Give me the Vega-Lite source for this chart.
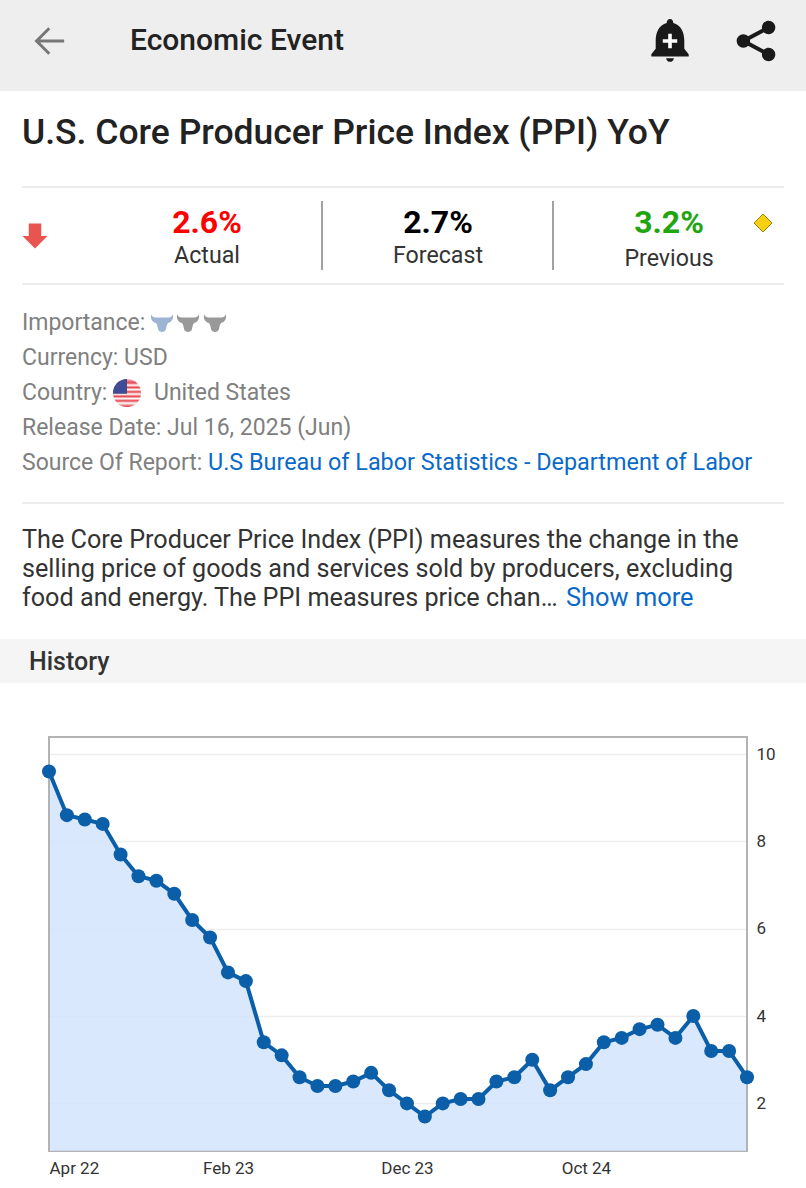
{"$schema":"https://vega.github.io/schema/vega-lite/v6.json","padding":0,"background":"#ffffff","autosize":{"type":"pad"},"config":{"font":"Roboto","view":{"stroke":null},"concat":{"spacing":0}},"bounds":"flush","spacing":0,"vconcat":[{"width":806,"height":737,"encoding":{"x":{"field":"col","type":"quantitative","axis":null,"scale":{"domain":[1,2,3,4,5,6,7,8,9,10,11,12,13,14,15,16,17,18,19,20,21,22,23],"range":[0,22,29,35,50,127,130,154,162,188,207,208,215,322,438,553,566,669,670,756,763,784,806],"nice":false,"zero":false}},"y":{"field":"line","type":"quantitative","axis":null,"scale":{"domain":[1,2,3,4,5,6,7,8,9,10,11,12,13,14,15,16,17,18,19,20,21,22,23,24,25],"range":[0,41,91,133,187,201,223,236,256,259,270,284,323,358,393,428,463,503,540,569,598,639,662,683,737],"nice":false,"zero":false}},"color":{"field":"tone","type":"nominal","legend":null,"scale":{"domain":["top bar","history bar","actual","forecast","previous","importance on","importance off"],"range":["#eeeeee","#f5f5f5","#ff0000","#000000","#1ea50f","#9db4d4","#999999"]}}},"layer":[{"data":{"values":[{"tone":"top bar","col":1,"col2":23,"line":1,"line2":3},{"tone":"history bar","col":1,"col2":23,"line":22,"line2":24}]},"mark":{"type":"rect"},"encoding":{"x2":{"field":"col2"},"y2":{"field":"line2"}}},{"data":{"values":[{"col":2,"col2":22,"line":5},{"col":2,"col2":22,"line":12},{"col":2,"col2":22,"line":18}]},"mark":{"type":"rule","strokeWidth":1.2},"encoding":{"x2":{"field":"col2"},"color":{"value":"#dcdcdc"}}},{"data":{"values":[{"col":14,"line":6,"line2":11},{"col":16,"line":6,"line2":11}]},"mark":{"type":"rule","strokeWidth":1},"encoding":{"y2":{"field":"line2"},"color":{"value":"#444444"}}},{"data":{"values":[{"label":"Economic Event","col":7,"line":2}]},"mark":{"type":"text","align":"left","baseline":"middle","fontSize":30,"fontWeight":500},"encoding":{"text":{"field":"label"},"color":{"value":"#222222"}}},{"data":{"values":[{"label":"U.S. Core Producer Price Index (PPI) YoY","col":2,"line":4}]},"mark":{"type":"text","align":"left","baseline":"middle","fontSize":35.5,"fontWeight":500},"encoding":{"text":{"field":"label"},"color":{"value":"#222222"}}},{"data":{"values":[{"label":"2.6%","tone":"actual","col":11,"line":7},{"label":"2.7%","tone":"forecast","col":15,"line":7},{"label":"3.2%","tone":"previous","col":18,"line":7}]},"mark":{"type":"text","align":"center","baseline":"middle","fontSize":32,"fontWeight":700},"encoding":{"text":{"field":"label"}}},{"data":{"values":[{"label":"Actual","col":11,"line":9},{"label":"Forecast","col":15,"line":9},{"label":"Previous","col":18,"line":10}]},"mark":{"type":"text","align":"center","baseline":"middle","fontSize":23.2},"encoding":{"text":{"field":"label"},"color":{"value":"#333333"}}},{"data":{"values":[{"label":"Importance:","col":2,"line":13},{"label":"Currency: USD","col":2,"line":14},{"label":"Country:","col":2,"line":15},{"label":"United States","col":8,"line":15},{"label":"Release Date: Jul 16, 2025 (Jun)","col":2,"line":16},{"label":"Source Of Report:","col":2,"line":17}]},"mark":{"type":"text","align":"left","baseline":"middle","fontSize":23},"encoding":{"text":{"field":"label"},"color":{"value":"#808080"}}},{"data":{"values":[{"label":"U.S Bureau of Labor Statistics - Department of Labor","col":12,"line":17}]},"mark":{"type":"text","align":"left","baseline":"middle","fontSize":23.4},"encoding":{"text":{"field":"label"},"color":{"value":"#0a6ac9"}}},{"data":{"values":[{"label":"Show more","col":17,"line":21}]},"mark":{"type":"text","align":"left","baseline":"middle","fontSize":25.4},"encoding":{"text":{"field":"label"},"color":{"value":"#0a6ac9"}}},{"data":{"values":[{"label":"The Core Producer Price Index (PPI) measures the change in the","col":2,"line":19},{"label":"selling price of goods and services sold by producers, excluding","col":2,"line":20},{"label":"food and energy. The PPI measures price chan…","col":2,"line":21}]},"mark":{"type":"text","align":"left","baseline":"middle","fontSize":25.2},"encoding":{"text":{"field":"label"},"color":{"value":"#333333"}}},{"data":{"values":[{"label":"History","col":3,"line":23}]},"mark":{"type":"text","align":"left","baseline":"middle","fontSize":25,"fontWeight":500},"encoding":{"text":{"field":"label"},"color":{"value":"#333333"}}},{"data":{"values":[{"icon":"back","col":5,"line":2}]},"mark":{"type":"point","filled":false,"opacity":1,"size":800,"strokeWidth":3,"shape":"M1,0 L-0.95,0 M-0.05,-0.9 L-0.95,0 L-0.05,0.9"},"encoding":{"color":{"value":"#777777"}}},{"data":{"values":[{"icon":"bell","col":19,"line":2}]},"mark":{"type":"point","filled":true,"opacity":1,"size":1936,"shape":"M0,-1 C0.1,-1 0.15,-0.92 0.15,-0.82 C0.5,-0.72 0.65,-0.4 0.65,0 L0.65,0.35 L0.85,0.6 L0.85,0.7 L-0.85,0.7 L-0.85,0.6 L-0.65,0.35 L-0.65,0 C-0.65,-0.4 -0.5,-0.72 -0.15,-0.82 C-0.15,-0.92 -0.1,-1 0,-1 Z M-0.18,0.78 L0.18,0.78 C0.15,1 -0.15,1 -0.18,0.78 Z"},"encoding":{"color":{"value":"#1a1a1a"}}},{"data":{"values":[{"icon":"bell plus","col":19,"line":2}]},"mark":{"type":"point","filled":true,"opacity":1,"size":210,"shape":"M-0.25,-1 L0.25,-1 L0.25,-0.25 L1,-0.25 L1,0.25 L0.25,0.25 L0.25,1 L-0.25,1 L-0.25,0.25 L-1,0.25 L-1,-0.25 L-0.25,-0.25 Z"},"encoding":{"color":{"value":"#ffffff"}}},{"data":{"values":[{"icon":"share lines","col":20,"line":2}]},"mark":{"type":"point","filled":false,"opacity":1,"size":1764,"strokeWidth":4,"shape":"M0.6,-0.64 L-0.6,0 L0.6,0.64"},"encoding":{"color":{"value":"#1a1a1a"}}},{"data":{"values":[{"icon":"share nodes","col":20,"line":2}]},"mark":{"type":"point","filled":true,"opacity":1,"size":1764,"shape":"M0.92,-0.64 A0.32,0.32 0 1 0 0.28,-0.64 A0.32,0.32 0 1 0 0.92,-0.64 Z M-0.28,0 A0.32,0.32 0 1 0 -0.92,0 A0.32,0.32 0 1 0 -0.28,0 Z M0.92,0.64 A0.32,0.32 0 1 0 0.28,0.64 A0.32,0.32 0 1 0 0.92,0.64 Z"},"encoding":{"color":{"value":"#1a1a1a"}}},{"data":{"values":[{"icon":"down arrow","col":4,"line":8}]},"mark":{"type":"point","filled":true,"opacity":1,"size":625,"shape":"M-0.5,-1 L0.5,-1 L0.5,0 L1,0 L0,1 L-1,0 L-0.5,0 Z"},"encoding":{"color":{"value":"#e85550"}}},{"data":{"values":[{"icon":"diamond","col":21,"line":7}]},"mark":{"type":"point","filled":true,"opacity":1,"size":324,"strokeWidth":1,"stroke":"#9a8400","shape":"M0,-1 L1,0 L0,1 L-1,0 Z"},"encoding":{"color":{"value":"#f7cf13"}}},{"data":{"values":[{"icon":"bull","tone":"importance on","col":9,"line":13},{"icon":"bull","tone":"importance off","col":10,"line":13},{"icon":"bull","tone":"importance off","col":13,"line":13}]},"mark":{"type":"point","filled":true,"opacity":1,"size":484,"shape":"M-1,-0.8 C-0.9,-0.55 -0.7,-0.5 -0.45,-0.5 L0.45,-0.5 C0.7,-0.5 0.9,-0.55 1,-0.8 C1.05,-0.35 0.9,-0.1 0.55,0 L0.45,0.15 L0.35,0.6 C0.28,0.9 -0.28,0.9 -0.35,0.6 L-0.45,0.15 L-0.55,0 C-0.9,-0.1 -1.05,-0.35 -1,-0.8 Z"}},{"data":{"values":[{"icon":"flag","col":6,"line":15}]},"mark":{"type":"point","shape":"circle","filled":true,"opacity":1,"size":784,"fill":{"gradient":"linear","x1":0,"y1":0,"x2":0,"y2":1,"stops":[{"offset":0,"color":"#f6b9b9"},{"offset":0.14,"color":"#e8424a"},{"offset":0.22,"color":"#ffffff"},{"offset":0.3,"color":"#e8424a"},{"offset":0.38,"color":"#ffffff"},{"offset":0.46,"color":"#e8424a"},{"offset":0.54,"color":"#ffffff"},{"offset":0.62,"color":"#e8424a"},{"offset":0.7,"color":"#ffffff"},{"offset":0.78,"color":"#e8424a"},{"offset":0.86,"color":"#ffffff"},{"offset":1,"color":"#d8262f"}]}},"encoding":{"color":{"value":"#e8424a"}}},{"data":{"values":[{"icon":"flag canton","col":6,"line":15}]},"mark":{"type":"point","filled":true,"opacity":1,"size":784,"shape":"M0,0.05 L0,-1 A1,1 0 0 0 -1,0.05 Z"},"encoding":{"color":{"value":"#3f4c96"}}}]},{"bounds":"flush","spacing":0,"hconcat":[{"width":49,"height":414,"data":{"values":[{"label":""}]},"mark":{"type":"text"},"encoding":{"text":{"field":"label"}}},{"width":698,"height":414,"view":{"stroke":"#b3b3b3","strokeWidth":2},"data":{"values":[{"period":"Apr 22","ppi":9.6},{"period":"May 22","ppi":8.6},{"period":"Jun 22","ppi":8.5},{"period":"Jul 22","ppi":8.4},{"period":"Aug 22","ppi":7.7},{"period":"Sep 22","ppi":7.2},{"period":"Oct 22","ppi":7.1},{"period":"Nov 22","ppi":6.8},{"period":"Dec 22","ppi":6.2},{"period":"Jan 23","ppi":5.8},{"period":"Feb 23","ppi":5.0},{"period":"Mar 23","ppi":4.8},{"period":"Apr 23","ppi":3.4},{"period":"May 23","ppi":3.1},{"period":"Jun 23","ppi":2.6},{"period":"Jul 23","ppi":2.4},{"period":"Aug 23","ppi":2.4},{"period":"Sep 23","ppi":2.5},{"period":"Oct 23","ppi":2.7},{"period":"Nov 23","ppi":2.3},{"period":"Dec 23","ppi":2.0},{"period":"Jan 24","ppi":1.7},{"period":"Feb 24","ppi":2.0},{"period":"Mar 24","ppi":2.1},{"period":"Apr 24","ppi":2.1},{"period":"May 24","ppi":2.5},{"period":"Jun 24","ppi":2.6},{"period":"Jul 24","ppi":3.0},{"period":"Aug 24","ppi":2.3},{"period":"Sep 24","ppi":2.6},{"period":"Oct 24","ppi":2.9},{"period":"Nov 24","ppi":3.4},{"period":"Dec 24","ppi":3.5},{"period":"Jan 25","ppi":3.7},{"period":"Feb 25","ppi":3.8},{"period":"Mar 25","ppi":3.5},{"period":"Apr 25","ppi":4.0},{"period":"May 25","ppi":3.2},{"period":"Jun 25","ppi":3.2},{"period":"Jul 25","ppi":2.6}]},"encoding":{"x":{"field":"period","type":"nominal","sort":null,"scale":{"type":"point","padding":0},"axis":{"title":null,"values":["Apr 22","Feb 23","Dec 23","Oct 24"],"labelAngle":0,"labelFlush":true,"labelOverlap":false,"domain":false,"ticks":false,"grid":false,"labelPadding":9,"labelFontSize":17,"labelColor":"#333333","labelFont":"Roboto"}},"y":{"field":"ppi","type":"quantitative","scale":{"domain":[0.91,10.39],"nice":false,"zero":false},"axis":{"title":null,"orient":"right","values":[2,4,6,8,10],"grid":true,"gridColor":"#eeeeee","gridWidth":1.5,"domain":false,"ticks":false,"labelPadding":9,"labelFontSize":17,"labelColor":"#333333","labelFont":"Roboto"}}},"layer":[{"mark":{"type":"area","color":"#cfe2fb","opacity":0.8,"clip":true}},{"mark":{"type":"rule","color":"#b3b3b3","strokeWidth":2},"encoding":{"x":{"datum":"Apr 22"},"y":{"datum":0.91},"y2":{"datum":10.39}}},{"mark":{"type":"rule","color":"#b3b3b3","strokeWidth":2},"encoding":{"x":{"datum":"Jul 25"},"y":{"datum":0.91},"y2":{"datum":10.39}}},{"mark":{"type":"line","color":"#0b5ea8","strokeWidth":4}},{"mark":{"type":"circle","color":"#0b5ea8","opacity":1,"size":196,"clip":false}}]}]}]}
